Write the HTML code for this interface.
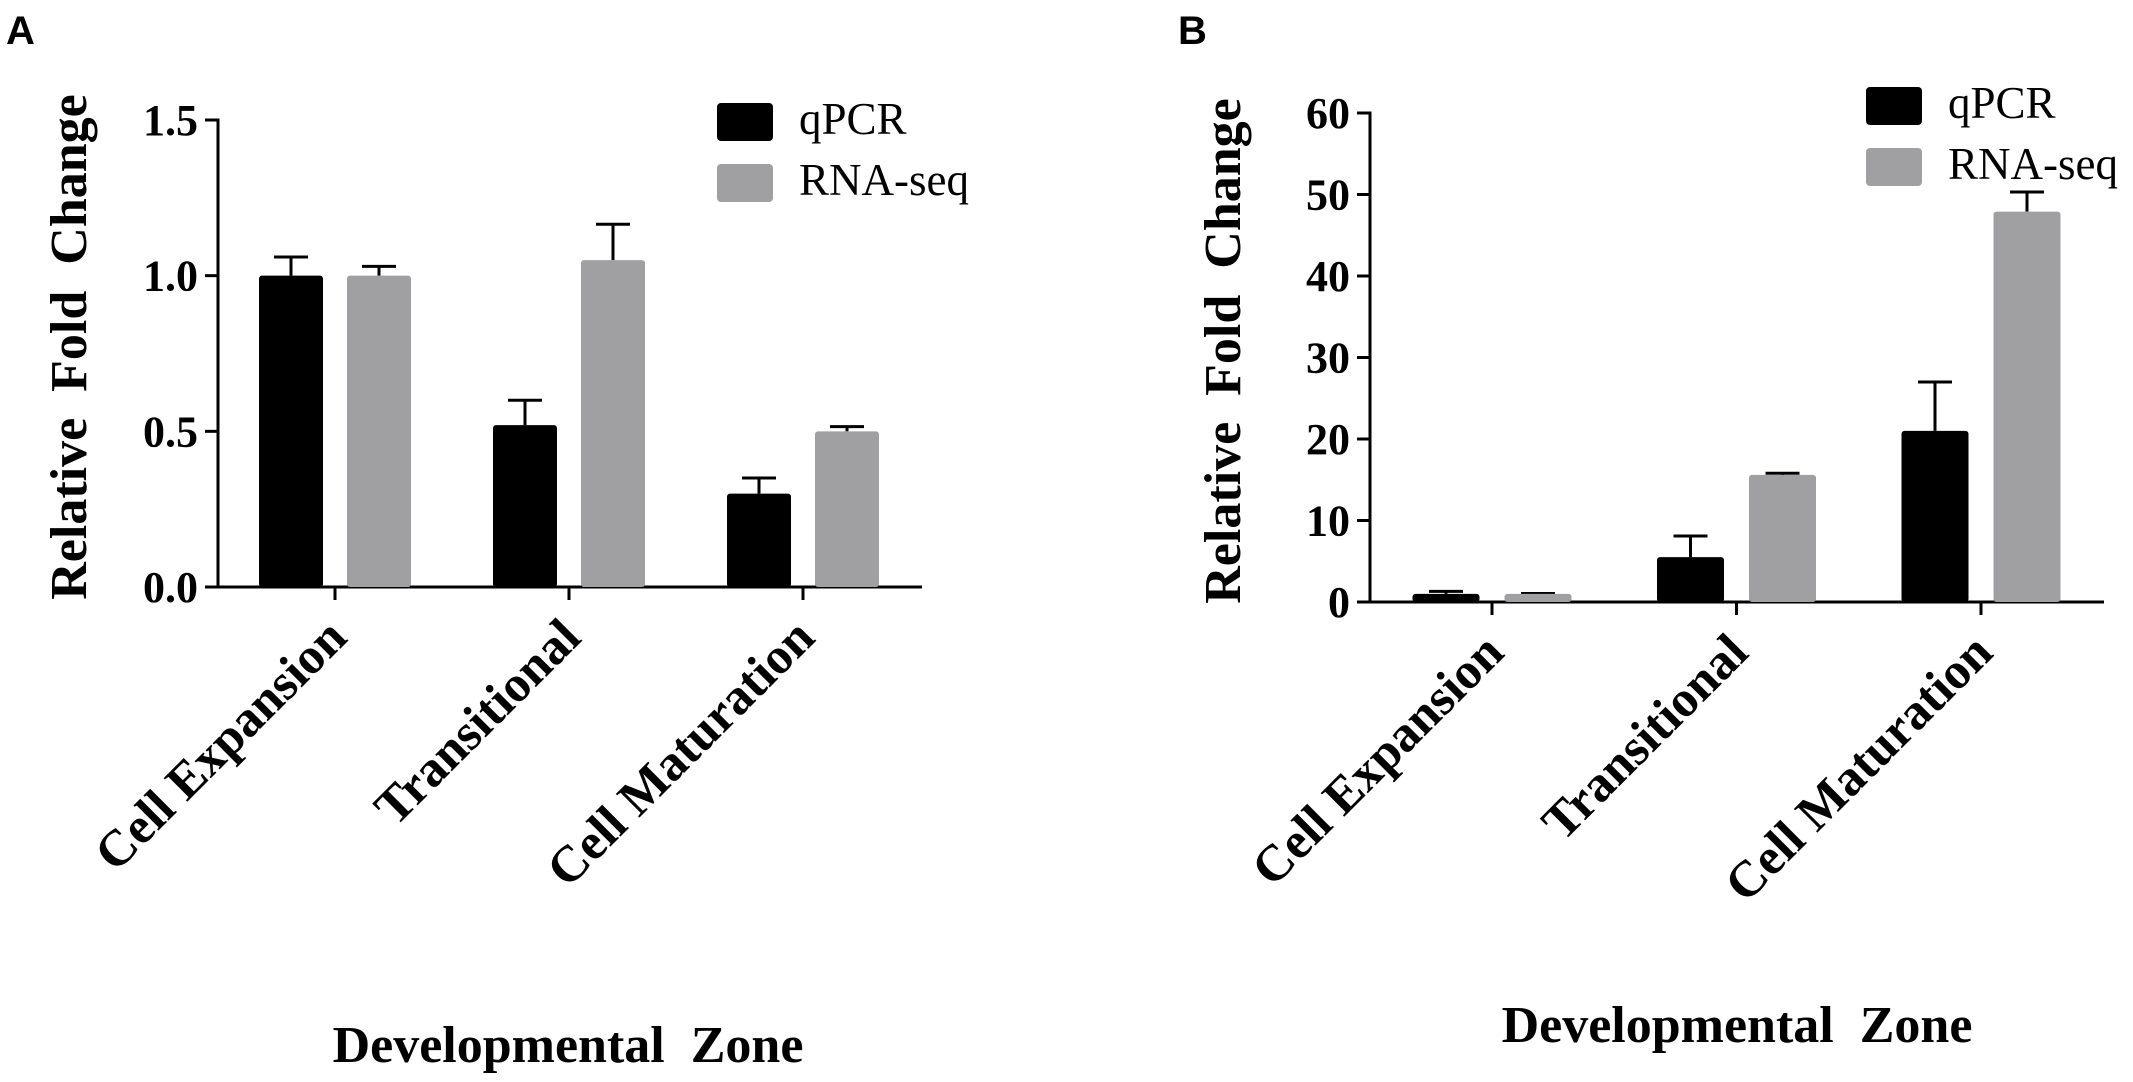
<!DOCTYPE html>
<html><head><meta charset="utf-8"><style>
html,body{margin:0;padding:0;background:#fff;}
svg{display:block;}
.tick{font-family:"Liberation Serif",serif;font-weight:bold;font-size:44px;fill:#000;}
.cat{font-family:"Liberation Serif",serif;font-weight:bold;font-size:51px;fill:#000;}
.ttl{font-family:"Liberation Serif",serif;font-weight:bold;font-size:52px;fill:#000;white-space:pre;}
.leg{font-family:"Liberation Serif",serif;font-size:45px;fill:#000;}
.pl{font-family:"Liberation Sans",sans-serif;font-weight:bold;font-size:40px;fill:#000;}
</style></head><body>
<svg id="chart" width="2133" height="1082" viewBox="0 0 2133 1082" xmlns="http://www.w3.org/2000/svg"></svg>
<script>
const categories = ["Cell Expansion", "Transitional", "Cell Maturation"];
const seriesNames = ["qPCR", "RNA-seq"];
const aQpcr = [1.0, 0.52, 0.30];
const aQpcrErr = [0.06, 0.08, 0.05];
const aRna = [1.0, 1.05, 0.50];
const aRnaErr = [0.03, 0.115, 0.015];
const aTicks = [0, 0.5, 1.0, 1.5];
const aTickLabels = ["0.0", "0.5", "1.0", "1.5"];
const bQpcr = [1.0, 5.5, 21.0];
const bQpcrErr = [0.3, 2.6, 6.0];
const bRna = [1.0, 15.6, 47.9];
const bRnaErr = [0.05, 0.2, 2.4];
const bTicks = [0, 10, 20, 30, 40, 50, 60];
const bTickLabels = ["0", "10", "20", "30", "40", "50", "60"];

const NS = "http://www.w3.org/2000/svg";
const svg = document.getElementById("chart");
function mk(tag, attrs, parent, text) {
  const e = document.createElementNS(NS, tag);
  for (const k in attrs) e.setAttribute(k, attrs[k]);
  if (text !== undefined) e.textContent = text;
  (parent || svg).appendChild(e);
  return e;
}
const colors = ["#000000", "#a0a0a3"];

function panel(cfg) {
  const g = mk("g", {});
  
  
  const y = v => cfg.y0 - (v - cfg.min) / (cfg.max - cfg.min) * (cfg.y0 - cfg.yTop);
  const lbl = mk("text", {x: cfg.lx, y: 44, class: "pl"}, g, cfg.letter);
  
  
  const ya = mk("line", {x1: cfg.axX, y1: cfg.yTop - 1.5, x2: cfg.axX, y2: cfg.y0 + 1.5, stroke: "#000", "stroke-width": 3}, g);
  
  
  const xa = mk("line", {x1: cfg.axX - 13, y1: cfg.y0, x2: cfg.axEnd, y2: cfg.y0, stroke: "#000", "stroke-width": 3}, g);
  
  
  cfg.ticks.forEach((t, i) => {
    const tl = mk("line", {x1: cfg.axX - 13, y1: y(t), x2: cfg.axX, y2: y(t), stroke: "#000", "stroke-width": 3}, g);
    
    
    const tx = mk("text", {x: cfg.axX - 20, y: y(t) + 15, "text-anchor": "end", class: "tick"}, g, cfg.tickLabels[i]);
    
    
  });
  const series = [[cfg.q, cfg.qe], [cfg.r, cfg.re]];
  categories.forEach((c, ci) => {
    const cx = cfg.cx0 + ci * cfg.cdx;
    const tk = mk("line", {x1: cx, y1: cfg.y0, x2: cx, y2: cfg.y0 + 13, stroke: "#000", "stroke-width": 3}, g);
    
    
    const px = cx + 14, py = cfg.y0 + 53;
    const ct = mk("text", {x: px, y: py, "text-anchor": "end", class: "cat", transform: `rotate(-45 ${px} ${py})`}, g, c);
    
    
    series.forEach((s, si) => {
      const bx = cx + (si === 0 ? -cfg.gap / 2 - cfg.bw : cfg.gap / 2);
      const top = y(s[0][ci]);
      const mid = bx + cfg.bw / 2;
      const et = y(s[0][ci] + s[1][ci]);
      const el = mk("line", {x1: mid, y1: et, x2: mid, y2: top, stroke: "#000", "stroke-width": 3}, g);
      
      
      const ec = mk("line", {x1: mid - 17, y1: et, x2: mid + 17, y2: et, stroke: "#000", "stroke-width": 3}, g);
      
      
      const b = mk("rect", {x: bx, y: top, width: cfg.bw, height: cfg.y0 - top, rx: 3, fill: colors[si]}, g);
      
      
    });
  });
  seriesNames.forEach((n, si) => {
    const ly = cfg.legY + si * 61;
    const r = mk("rect", {x: cfg.legX, y: ly, width: 56, height: 38, rx: 4, fill: colors[si]}, g);
    
    
    const t = mk("text", {x: cfg.legX + 82, y: ly + 31, class: "leg"}, g, n);
    
    
  });
  const yt = mk("text", {x: cfg.ytx, y: cfg.yty, "text-anchor": "middle", class: "ttl", transform: `rotate(-90 ${cfg.ytx} ${cfg.yty})`}, g, "Relative  Fold  Change");
  
  
  const xt = mk("text", {x: cfg.xtx, y: cfg.xty, "text-anchor": "middle", class: "ttl"}, g, "Developmental  Zone");
  
  
}

panel({name: "panel-a", letter: "A", lx: 6, axX: 218, axEnd: 922, y0: 587, yTop: 120, min: 0, max: 1.5,
  ticks: aTicks, tickLabels: aTickLabels, q: aQpcr, qe: aQpcrErr, r: aRna, re: aRnaErr,
  cx0: 335, cdx: 234, bw: 64, gap: 24, legX: 717, legY: 103, ytx: 86, yty: 347, xtx: 568, xty: 1062});
panel({name: "panel-b", letter: "B", lx: 1178, axX: 1370, axEnd: 2104, y0: 602, yTop: 113, min: 0, max: 60,
  ticks: bTicks, tickLabels: bTickLabels, q: bQpcr, qe: bQpcrErr, r: bRna, re: bRnaErr,
  cx0: 1492, cdx: 244.5, bw: 67, gap: 25, legX: 1866, legY: 87, ytx: 1240, yty: 351, xtx: 1737, xty: 1042});
</script>
</body></html>
